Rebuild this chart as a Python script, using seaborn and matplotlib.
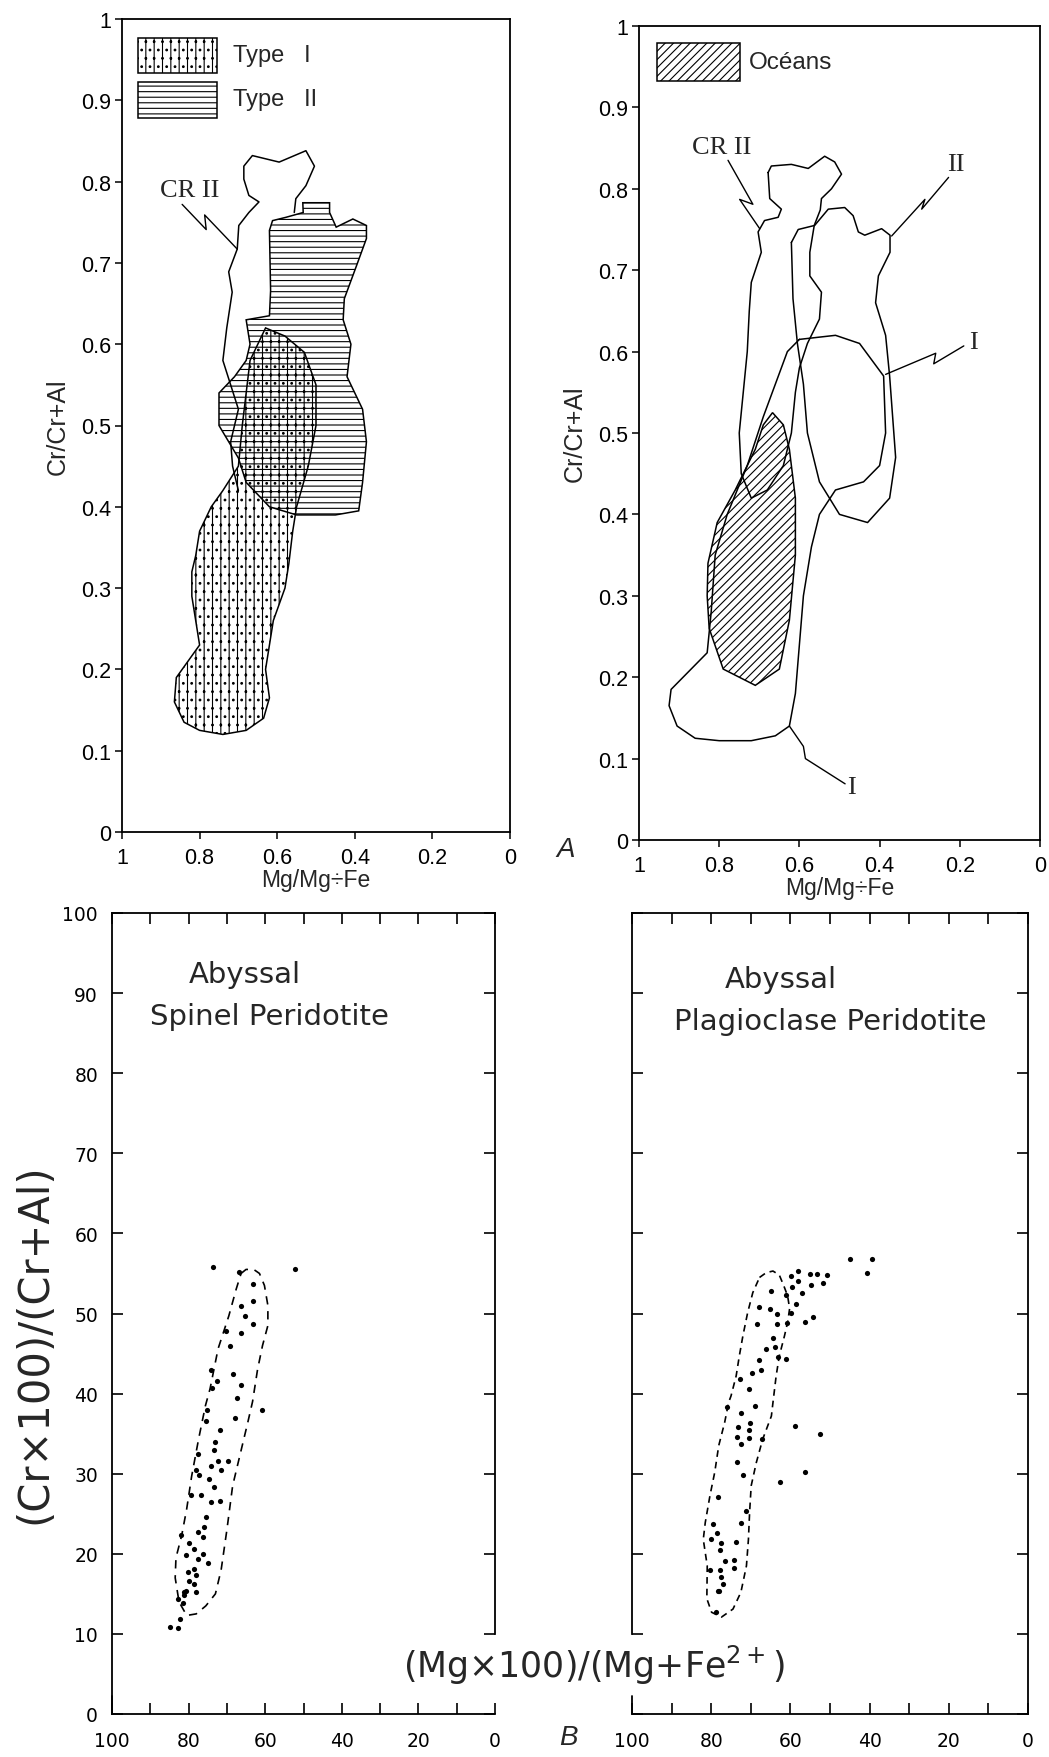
import numpy as np
import pandas as pd
import matplotlib
matplotlib.use("Agg")
import matplotlib.pyplot as plt
import seaborn as sns

sns.set_theme(style="ticks")
plt.rcParams['font.family'] = ['DejaVu Sans']
plt.rcParams['hatch.linewidth'] = 0.8
plt.rcParams['hatch.color'] = 'black'

# ---------------- Panel A (left): Mg/(Mg+Fe) vs Cr/(Cr+Al) ----------------
crii_L_x = [0.70, 0.715, 0.72, 0.70, 0.72, 0.74, 0.73, 0.716, 0.725, 0.703, 0.699, 0.673, 0.647,
            0.673, 0.686, 0.686, 0.664, 0.595, 0.526, 0.504, 0.526, 0.552, 0.556]
crii_L_y = [0.42, 0.45, 0.48, 0.52, 0.55, 0.58, 0.62, 0.664, 0.689, 0.717, 0.746, 0.762, 0.775,
            0.783, 0.803, 0.819, 0.832, 0.824, 0.838, 0.819, 0.795, 0.779, 0.762]
typeII_L_x = [0.534, 0.465, 0.465, 0.448, 0.405, 0.370, 0.37, 0.396, 0.427, 0.43, 0.41, 0.42, 0.38,
              0.37, 0.38, 0.39, 0.45, 0.55, 0.62, 0.68, 0.70, 0.75, 0.75, 0.71, 0.68, 0.67, 0.68,
              0.62, 0.617, 0.62, 0.612, 0.578, 0.533]
typeII_L_y = [0.774, 0.774, 0.762, 0.744, 0.754, 0.746, 0.73, 0.696, 0.656, 0.63, 0.60, 0.56, 0.52,
              0.48, 0.43, 0.395, 0.39, 0.39, 0.40, 0.43, 0.46, 0.50, 0.54, 0.56, 0.58, 0.60, 0.63,
              0.635, 0.666, 0.74, 0.752, 0.756, 0.762]
typeI_L_x = [0.63, 0.58, 0.53, 0.50, 0.50, 0.52, 0.55, 0.56, 0.57, 0.58, 0.61, 0.62, 0.63, 0.62,
             0.635, 0.68, 0.74, 0.80, 0.84, 0.865, 0.86, 0.83, 0.80, 0.81, 0.82, 0.82, 0.81, 0.80,
             0.77, 0.74, 0.70, 0.69, 0.67]
typeI_L_y = [0.62, 0.61, 0.59, 0.55, 0.50, 0.45, 0.40, 0.37, 0.33, 0.30, 0.26, 0.23, 0.20, 0.165,
             0.14, 0.125, 0.12, 0.125, 0.135, 0.16, 0.19, 0.21, 0.23, 0.26, 0.29, 0.32, 0.34, 0.37,
             0.40, 0.42, 0.45, 0.50, 0.58]
leader_crii_L_x = [0.845, 0.783, 0.787, 0.703]
leader_crii_L_y = [0.772, 0.741, 0.759, 0.717]

# ---------------- Panel A (right) ----------------
crii_R_x = [0.678, 0.670, 0.62, 0.578, 0.537, 0.512, 0.495, 0.52, 0.545, 0.548, 0.563, 0.574, 0.574,
            0.545, 0.55, 0.58, 0.60, 0.61, 0.62, 0.64, 0.68, 0.72, 0.745, 0.75, 0.74, 0.73,
            0.725, 0.72, 0.695, 0.703, 0.687, 0.653, 0.645, 0.674, 0.678]
crii_R_y = [0.820, 0.828, 0.830, 0.825, 0.840, 0.833, 0.818, 0.80, 0.788, 0.774, 0.755, 0.722, 0.693,
            0.673, 0.64, 0.61, 0.58, 0.55, 0.50, 0.46, 0.43, 0.42, 0.45, 0.50, 0.55, 0.60,
            0.65, 0.685, 0.722, 0.747, 0.761, 0.765, 0.775, 0.788, 0.820]
typeII_R_x = [0.62, 0.603, 0.562, 0.528, 0.487, 0.466, 0.453, 0.437, 0.395, 0.374, 0.374, 0.403, 0.41,
              0.385, 0.375, 0.36, 0.375, 0.43, 0.50, 0.55, 0.58, 0.59, 0.605, 0.616, 0.62]
typeII_R_y = [0.734, 0.75, 0.755, 0.775, 0.777, 0.767, 0.747, 0.743, 0.751, 0.743, 0.722, 0.693, 0.66,
              0.62, 0.57, 0.47, 0.42, 0.39, 0.40, 0.44, 0.50, 0.56, 0.61, 0.665, 0.734]
typeI_R_x = [0.60, 0.51, 0.45, 0.39, 0.385, 0.40, 0.44, 0.51, 0.55, 0.57, 0.59, 0.60, 0.61, 0.625,
             0.66, 0.72, 0.80, 0.86, 0.905, 0.925, 0.92, 0.88, 0.83, 0.82, 0.81, 0.78, 0.73, 0.69,
             0.66, 0.63, 0.60]
typeI_R_y = [0.615, 0.62, 0.61, 0.57, 0.50, 0.46, 0.44, 0.43, 0.40, 0.36, 0.30, 0.24, 0.18, 0.14,
             0.128, 0.122, 0.122, 0.125, 0.14, 0.165, 0.185, 0.205, 0.23, 0.28, 0.35, 0.40, 0.46,
             0.52, 0.56, 0.60, 0.615]
oceans_x = [0.667, 0.64, 0.625, 0.61, 0.61, 0.625, 0.65, 0.71, 0.75, 0.79, 0.825, 0.83, 0.828,
            0.805, 0.76, 0.71, 0.69, 0.667]
oceans_y = [0.525, 0.51, 0.48, 0.42, 0.35, 0.27, 0.21, 0.19, 0.20, 0.21, 0.26, 0.30, 0.34,
            0.39, 0.43, 0.48, 0.51, 0.525]
leader_crii_R_x = [0.778, 0.716, 0.749, 0.699]
leader_crii_R_y = [0.835, 0.781, 0.787, 0.751]
leader_II_R_x = [0.228, 0.295, 0.287, 0.37]
leader_II_R_y = [0.814, 0.775, 0.787, 0.742]
leader_I_top_x = [0.19, 0.265, 0.26, 0.385]
leader_I_top_y = [0.607, 0.585, 0.598, 0.572]
leader_I_bot_x = [0.486, 0.585, 0.59, 0.625]
leader_I_bot_y = [0.069, 0.10, 0.115, 0.14]

# ---------------- Panel B: abyssal spinel peridotite ----------------
spinel_x = [73.6, 52.3, 66.8, 63.3, 63.3, 66.3, 65.2, 63.3, 70.2, 66.2, 69.2, 74.2, 68.5, 72.7, 73.9,
            66.3, 67.3, 75.2, 68.0, 60.9, 75.5, 71.7, 73.1, 73.3, 77.6, 72.4, 69.6, 74.1, 78.1, 71.5,
            77.2, 74.6, 73.4, 76.8, 79.4, 74.1, 71.7, 75.4, 75.9, 77.6, 82.0, 76.3, 79.8, 78.5, 76.3,
            75.0, 77.6, 80.6, 78.7, 78.0, 79.8, 78.5, 80.6, 78.0, 81.1, 80.2, 81.1, 82.8, 81.5, 82.2,
            84.8, 82.8]
spinel_y = [55.8, 55.6, 55.2, 53.7, 51.5, 50.9, 49.7, 48.7, 47.8, 47.6, 45.9, 42.9, 42.4, 41.6, 40.7,
            41.1, 39.5, 38.0, 36.9, 38.0, 36.6, 35.5, 33.9, 33.0, 32.5, 31.6, 31.6, 31.0, 30.4, 30.4,
            29.8, 29.3, 28.4, 27.3, 27.3, 26.5, 26.6, 24.6, 23.3, 22.7, 22.3, 22.1, 21.4, 20.6, 20.0,
            18.9, 19.4, 19.8, 18.1, 17.3, 16.6, 16.2, 15.4, 15.2, 14.8, 17.7, 15.2, 14.4, 13.9, 11.9,
            10.9, 10.7]
spinel_env_x = [66.3, 65.0, 63.0, 61.5, 60.2, 59.3, 59.3, 60.7, 62.0, 63.3, 64.5, 66.5, 68.5, 70.0,
                71.5, 73.0, 75.5, 78.0, 80.5, 82.5, 83.5, 83.3, 81.8, 80.5, 79.2, 77.4, 75.6, 74.4,
                72.3, 69.5, 67.6, 66.3]
spinel_env_y = [55.0, 55.5, 55.5, 55.0, 53.5, 51.0, 48.5, 46.0, 43.0, 39.0, 36.5, 32.5, 28.5, 23.0,
                18.0, 15.0, 13.5, 12.5, 12.3, 14.0, 17.0, 19.5, 22.3, 25.6, 29.7, 34.3, 38.5, 40.6,
                45.6, 49.7, 53.0, 55.0]

# ---------------- Panel B: abyssal plagioclase peridotite ----------------
plag_x = [44.9, 39.5, 40.6, 58.0, 59.8, 55.0, 53.2, 50.7, 51.7, 58.2, 54.8, 59.5, 64.9, 61.2, 57.0,
          58.6, 67.9, 65.1, 63.3, 59.9, 54.4, 56.3, 68.5, 63.3, 60.9, 64.5, 66.2, 63.8, 63.1, 61.0,
          68.0, 67.5, 69.7, 72.7, 70.4, 69.0, 75.9, 72.6, 70.3, 73.2, 70.4, 73.4, 70.4, 72.5, 67.2,
          58.8, 52.5, 73.5, 71.9, 62.6, 56.4, 78.2, 71.1, 79.6, 72.6, 78.6, 80.0, 77.6, 73.7, 77.9,
          76.6, 74.3, 74.3, 80.4, 77.9, 77.4, 77.0, 78.1, 78.4, 78.8]
plag_y = [56.8, 56.8, 55.0, 55.3, 54.7, 54.9, 54.9, 54.8, 53.8, 54.0, 53.5, 53.3, 52.8, 52.3, 52.6,
          51.2, 50.8, 50.6, 50.0, 50.1, 49.6, 48.9, 48.7, 48.7, 48.8, 46.9, 45.6, 45.8, 44.6, 44.3,
          44.2, 42.9, 42.6, 41.8, 40.6, 38.5, 38.3, 37.6, 36.3, 35.8, 35.4, 34.6, 34.4, 33.7, 34.3,
          36.0, 35.0, 31.4, 29.8, 29.0, 30.2, 27.1, 25.4, 23.7, 23.8, 22.6, 21.8, 21.4, 21.5, 20.5,
          19.1, 19.2, 18.2, 18.0, 18.0, 17.1, 16.2, 15.3, 15.4, 12.7]
plag_env_x = [67.8, 66.1, 64.4, 62.8, 61.7, 60.7, 60.2, 60.7, 61.5, 62.8, 63.6, 64.4, 64.8, 67.0,
              68.6, 69.9, 70.3, 70.6, 71.1, 72.5, 74.5, 77.4, 79.9, 81.1, 81.0, 82.0, 81.5, 80.3,
              79.1, 78.1, 76.6, 75.6, 75.0, 73.7, 72.9, 72.0, 70.8, 69.5, 67.8]
plag_env_y = [54.5, 55.1, 55.3, 54.8, 53.5, 52.2, 50.6, 48.9, 47.2, 44.7, 42.2, 38.9, 37.2, 34.3,
              31.4, 28.5, 25.2, 21.8, 18.5, 15.2, 13.1, 12.1, 12.7, 14.4, 18.5, 21.8, 23.9, 27.3,
              30.2, 33.5, 36.4, 38.9, 39.7, 42.2, 44.7, 47.2, 50.1, 52.6, 54.5]

spinel_df = pd.DataFrame({"mg": spinel_x, "cr": spinel_y})
plag_df = pd.DataFrame({"mg": plag_x, "cr": plag_y})

# ---------------- figure ----------------
W, H = 1049, 1758
fig = plt.figure(figsize=(W / 100, H / 100), dpi=100)


def box(l, r, t, b):
    return [l / W, 1 - b / H, (r - l) / W, (b - t) / H]


axTL = fig.add_axes(box(122, 510, 20, 833))
axTR = fig.add_axes(box(639, 1040, 27, 841))
axBL = fig.add_axes(box(112, 495, 914, 1715))
axBR = fig.add_axes(box(632, 1028, 914, 1715))

LW = 1.1
tick_font = 'Liberation Sans'
serif = 'Liberation Serif'

for ax in (axTL, axTR):
    ax.set_xlim(1, 0)
    ax.set_ylim(0, 1)
    for s in ax.spines.values():
        s.set_visible(True)
        s.set_linewidth(1.3)
        s.set_color('black')
    ax.set_yticks(np.arange(0, 1.01, 0.1))
    ax.set_yticklabels(['0'] + [f'{v:.1f}' for v in np.arange(0.1, 0.95, 0.1)] + ['1'])
    ax.set_xticks([1, 0.8, 0.6, 0.4, 0.2, 0])
    ax.set_xticklabels(['1', '0.8', '0.6', '0.4', '0.2', '0'])
    ax.tick_params(axis='both', direction='out', length=5, width=1.1, labelsize=15.5, pad=3,
                   colors='black')
    ax.tick_params(axis='x', pad=6)
    for lab in ax.get_xticklabels() + ax.get_yticklabels():
        lab.set_fontfamily(tick_font)
    ax.set_xlabel('Mg/Mg÷Fe', fontsize=16.5, family=tick_font, labelpad=0)
    ax.set_ylabel('Cr/Cr+Al', fontsize=18, family=tick_font, labelpad=8)
    ax.set_facecolor('white')

# --- top left panel ---
axTL.fill(typeI_L_x, typeI_L_y, facecolor='white', edgecolor='black', hatch='||..', lw=LW, zorder=2)
axTL.fill(typeII_L_x, typeII_L_y, facecolor='none', edgecolor='black', hatch='---', lw=LW, zorder=3)
axTL.plot(crii_L_x, crii_L_y, color='black', lw=LW, zorder=3)
axTL.plot(leader_crii_L_x, leader_crii_L_y, color='black', lw=1.0, zorder=3)
axTL.text(0.825, 0.79, 'CR II', family=serif, fontsize=19, ha='center', va='center')
# legend boxes
axTL.fill([0.959, 0.754, 0.754, 0.959], [0.977, 0.977, 0.934, 0.934], facecolor='white',
          edgecolor='black', hatch='||..', lw=LW)
axTL.fill([0.959, 0.754, 0.754, 0.959], [0.923, 0.923, 0.878, 0.878], facecolor='white',
          edgecolor='black', hatch='---', lw=LW)
axTL.text(0.715, 0.956, 'Type   I', fontsize=17, family=tick_font, va='center', ha='left')
axTL.text(0.715, 0.902, 'Type   II', fontsize=17, family=tick_font, va='center', ha='left')

# --- top right panel ---
axTR.fill(oceans_x, oceans_y, facecolor='white', edgecolor='black', hatch='////', lw=LW, zorder=2)
for xs, ys in ((crii_R_x, crii_R_y), (typeII_R_x, typeII_R_y), (typeI_R_x, typeI_R_y)):
    axTR.plot(xs, ys, color='black', lw=LW, zorder=3)
for xs, ys in ((leader_crii_R_x, leader_crii_R_y), (leader_II_R_x, leader_II_R_y),
               (leader_I_top_x, leader_I_top_y), (leader_I_bot_x, leader_I_bot_y)):
    axTR.plot(xs, ys, color='black', lw=1.0, zorder=3)
axTR.text(0.795, 0.851, 'CR II', family=serif, fontsize=19, ha='center', va='center')
axTR.text(0.21, 0.83, 'II', family=serif, fontsize=19, ha='center', va='center')
axTR.text(0.165, 0.612, 'I', family=serif, fontsize=19, ha='center', va='center')
axTR.text(0.47, 0.065, 'I', family=serif, fontsize=19, ha='center', va='center')
axTR.fill([0.955, 0.7475, 0.7475, 0.955], [0.979, 0.979, 0.932, 0.932], facecolor='white',
          edgecolor='black', hatch='////', lw=LW)
axTR.text(0.725, 0.956, 'Océans', fontsize=17.5, family=tick_font, va='center', ha='left')

# --- bottom panels ---
for ax in (axBL, axBR):
    ax.set_xlim(100, 0)
    ax.set_ylim(0, 100)
    for s in ax.spines.values():
        s.set_visible(True)
        s.set_linewidth(1.3)
        s.set_color('black')
    ax.set_xticks(np.arange(0, 101, 10))
    ax.set_xticklabels([str(v) if v % 20 == 0 else '' for v in range(0, 101, 10)])
    ax.set_yticks(np.arange(0, 101, 10))
    ax.tick_params(axis='both', direction='in', length=8, width=1.2, labelsize=13.5,
                   top=True, right=True, colors='black')
    ax.tick_params(axis='x', pad=12)
    ax.tick_params(axis='y', pad=10)
    ax.set_facecolor('white')

axBL.set_yticklabels([str(v) for v in range(0, 101, 10)])
axBR.set_yticklabels([])
axBL.spines['right'].set_bounds(10, 100)
axBL.plot([0, 0], [0, 0.022], transform=axBL.transAxes, color='black', lw=1.3, clip_on=False)
axBR.spines['left'].set_bounds(10, 100)
axBR.plot([0, 0], [0, 0.022], transform=axBR.transAxes, color='black', lw=1.3, clip_on=False)

sns.scatterplot(data=spinel_df, x='mg', y='cr', ax=axBL, color='black', s=14, linewidth=0,
                legend=False, zorder=4)
axBL.plot(spinel_env_x, spinel_env_y, color='black', lw=1.2, ls=(0, (5, 4)), zorder=3)
sns.scatterplot(data=plag_df, x='mg', y='cr', ax=axBR, color='black', s=14, linewidth=0,
                legend=False, zorder=4)
axBR.plot(plag_env_x, plag_env_y, color='black', lw=1.2, ls=(0, (4, 3)), zorder=3)
for ax in (axBL, axBR):
    ax.set_xlabel('')
    ax.set_ylabel('')

axBL.text(0.2, 0.924, 'Abyssal', transform=axBL.transAxes, fontsize=21, ha='left', va='center')
axBL.text(0.1, 0.871, 'Spinel Peridotite', transform=axBL.transAxes, fontsize=21, ha='left',
          va='center')
axBR.text(0.235, 0.918, 'Abyssal', transform=axBR.transAxes, fontsize=21, ha='left', va='center')
axBR.text(0.105, 0.865, 'Plagioclase Peridotite', transform=axBR.transAxes, fontsize=21,
          ha='left', va='center')

# shared labels
fig.text(0.566, 1 - 1665 / H, '(Mg×100)/(Mg+Fe$^{2+}$)', fontsize=25, ha='center', va='center')
fig.text(34 / W, 1 - 1344 / H, '(Cr×100)/(Cr+Al)', fontsize=30, ha='center', va='center',
         rotation=90)
fig.text(566 / W, 1 - 850 / H, 'A', fontsize=20, style='italic', ha='center', va='center',
         family=tick_font)
fig.text(568 / W, 1 - 1738 / H, 'B', fontsize=20, style='italic', ha='center', va='center',
         family=tick_font)

fig.savefig('out.png', dpi=100, facecolor='white')
